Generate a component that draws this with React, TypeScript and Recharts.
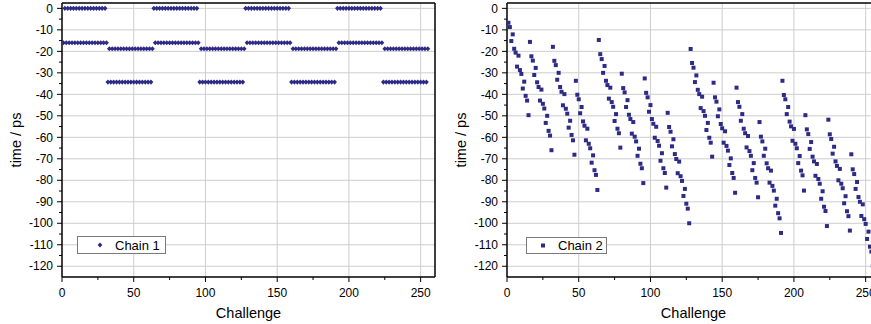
import React from 'react';
import { ScatterChart, Scatter, XAxis, YAxis, CartesianGrid, ReferenceLine, Legend } from 'recharts';

// ---------- data ----------
const challengeTicks = [0, 25, 50, 75, 100, 125, 150, 175, 200, 225, 250];
const timeTicks = [-120, -115, -110, -105, -100, -95, -90, -85, -80, -75, -70, -65, -60, -55, -50, -45, -40, -35, -30, -25, -20, -15, -10, -5, 0];
const gridChallenge = [50, 100, 150, 200, 250];
const gridTime = [-120, -110, -100, -90, -80, -70, -60, -50, -40, -30, -20, -10, 0];

// Chain 1: level per 32-challenge block, for even and odd challenges
const chain1EvenLevels = [0, -34.3, 0, -34.3, 0, -34.3, 0, -34.3];
const chain1OddLevels = [-16.0, -18.8, -16.0, -18.8, -16.0, -18.8, -16.0, -18.8];

// Chain 2: values for challenges 1..255, in blocks of 16
const chain2Block0 = [-6.7, -8.7, -15.2, -12.1, -18.8, -20.6, -27.1, -22.0, -28.7, -30.5, -37.3, -34.1, -40.7, -42.9, -49.7];
const chain2Block1 = [-15.6, -22.3, -24.3, -31.0, -27.7, -34.4, -36.6, -42.9, -37.8, -44.4, -46.6, -53.3, -50.0, -57.0, -59.2, -66.0];
const chain2Block2 = [-17.9, -24.4, -26.4, -33.2, -30.0, -36.6, -38.8, -45.1, -39.9, -46.7, -49.0, -55.5, -52.3, -58.9, -61.4, -68.1];
const chain2Block3 = [-33.7, -40.2, -42.3, -48.8, -45.9, -52.6, -54.6, -61.4, -56.0, -63.0, -65.1, -71.8, -68.4, -75.3, -77.5, -84.5];
const chain2Block4 = [-14.7, -21.3, -23.6, -30.0, -26.8, -33.7, -35.7, -42.0, -36.9, -43.6, -45.8, -52.4, -49.2, -56.0, -58.1, -64.8];
const chain2Block5 = [-30.4, -37.1, -39.1, -45.9, -42.7, -49.5, -51.5, -58.3, -52.9, -59.7, -61.9, -68.6, -65.3, -72.3, -74.4, -81.3];
const chain2Block6 = [-32.6, -39.3, -41.4, -48.1, -45.0, -51.5, -53.7, -60.2, -55.1, -61.7, -63.9, -70.9, -67.4, -74.4, -76.6, -83.4];
const chain2Block7 = [-48.6, -55.2, -57.4, -64.2, -60.9, -67.8, -70.1, -76.7, -71.3, -78.1, -80.3, -87.3, -84.0, -90.9, -93.2, -100.0];
const chain2Block8 = [-18.9, -25.4, -27.6, -34.3, -31.2, -37.9, -39.9, -46.4, -41.1, -47.8, -50.0, -56.6, -53.3, -60.2, -62.5, -69.0];
const chain2Block9 = [-34.6, -41.4, -43.4, -50.2, -47.0, -53.8, -55.8, -62.5, -57.2, -64.0, -66.2, -72.9, -69.8, -76.6, -78.9, -85.8];
const chain2Block10 = [-36.9, -43.6, -45.8, -52.3, -49.2, -56.0, -58.1, -64.7, -59.4, -66.4, -68.6, -75.3, -72.0, -78.9, -81.1, -87.9];
const chain2Block11 = [-52.9, -59.7, -61.9, -68.6, -65.3, -72.1, -74.4, -81.1, -75.5, -82.6, -84.8, -91.8, -88.6, -95.3, -97.7, -104.5];
const chain2Block12 = [-33.7, -40.3, -42.3, -49.2, -45.9, -52.7, -54.9, -61.6, -56.1, -63.0, -65.1, -72.0, -68.7, -75.5, -77.7, -84.8];
const chain2Block13 = [-49.7, -56.3, -58.5, -65.4, -62.2, -69.0, -71.2, -77.9, -72.4, -79.4, -81.6, -88.6, -85.1, -92.3, -94.3, -101.3];
const chain2Block14 = [-51.8, -58.6, -60.8, -67.6, -64.4, -71.2, -73.3, -80.0, -74.7, -81.6, -83.7, -90.7, -87.4, -94.4, -96.7, -103.4];
const chain2Block15 = [-67.9, -74.9, -77.1, -84.0, -80.8, -87.8, -90.0, -96.6, -91.2, -98.1, -100.3, -107.3, -103.9, -110.9, -113.2, -119.9];

const chain2Values = [
  ...chain2Block0, ...chain2Block1, ...chain2Block2, ...chain2Block3,
  ...chain2Block4, ...chain2Block5, ...chain2Block6, ...chain2Block7,
  ...chain2Block8, ...chain2Block9, ...chain2Block10, ...chain2Block11,
  ...chain2Block12, ...chain2Block13, ...chain2Block14, ...chain2Block15,
];

const chain1Data: { x: number; y: number }[] = [];
for (let c = 1; c < 256; c++) {
  const b = Math.floor(c / 32);
  chain1Data.push({ x: c, y: c % 2 === 0 ? chain1EvenLevels[b] : chain1OddLevels[b] });
}
const chain2Data = chain2Values.map((v, i) => ({ x: i + 1, y: v }));

// ---------- styling ----------
const MARK = '#2e2b86';
const GRID = '#cdcdcd';
const FONT = '"Liberation Sans", Arial, Helvetica, sans-serif';

const diamond = (cx: number, cy: number) => (
  <polygon points={`${cx},${cy - 2.6} ${cx + 2.4},${cy} ${cx},${cy + 2.6} ${cx - 2.4},${cy}`} fill={MARK} />
);
const square = (cx: number, cy: number) => (
  <rect x={cx - 2} y={cy - 2} width={4} height={4} fill={MARK} />
);

const YTick = (props: any) => {
  const { x, y, payload } = props;
  const v = payload.value;
  const major = v % 10 === 0;
  return (
    <g>
      <line x1={x} x2={x - (major ? 5 : 3)} y1={y} y2={y} stroke="#000" strokeWidth={1} />
      {major && (
        <text x={x - 9} y={y} dy="0.35em" textAnchor="end" fontSize={12} fill="#000" fontFamily={FONT}>
          {v}
        </text>
      )}
    </g>
  );
};

const XTick = (props: any) => {
  const { x, y, payload } = props;
  const v = payload.value;
  const major = v % 50 === 0;
  return (
    <g>
      <line x1={x} x2={x} y1={y} y2={y + (major ? 5 : 3)} stroke="#000" strokeWidth={1} />
      {major && (
        <text x={x} y={y + 19.5} textAnchor="middle" fontSize={12} fill="#000" fontFamily={FONT}>
          {v}
        </text>
      )}
    </g>
  );
};

const XLabel = (props: any) => {
  const vb = props.viewBox;
  return (
    <text x={vb.x + vb.width / 2} y={vb.y + 41} textAnchor="middle" fontSize={14.5} fill="#000" fontFamily={FONT}>
      Challenge
    </text>
  );
};

const YLabel = (props: any) => {
  const vb = props.viewBox;
  const cx = vb.x + vb.width - 46;
  const cy = vb.y + vb.height / 2;
  return (
    <text x={cx} y={cy} transform={`rotate(-90 ${cx} ${cy})`} textAnchor="middle" dy="0.35em" fontSize={14.5} fill="#000" fontFamily={FONT}>
      time / ps
    </text>
  );
};

type PanelProps = {
  width: number;
  yAxisWidth: number;
  data: { x: number; y: number }[];
  name: string;
  marker: (cx: number, cy: number) => React.ReactElement;
  legendLeft: number;
  legendTop: number;
  legendW: number;
  legendH: number;
  legendMarkerX: number;
  legendTextX: number;
  legendBaseline: number;
};

const Panel = (p: PanelProps) => (
  <ScatterChart width={p.width} height={324} margin={{ top: 3, right: 5, bottom: 0, left: 0 }}>
    <CartesianGrid stroke={GRID} strokeWidth={1} horizontalValues={gridTime} verticalValues={gridChallenge} />
    <XAxis
      type="number"
      dataKey="x"
      domain={[0, 260]}
      ticks={challengeTicks}
      interval={0}
      height={47}
      tickSize={0}
      tickMargin={0}
      tickLine={false}
      axisLine={{ stroke: '#000', strokeWidth: 1.5 }}
      tick={<XTick />}
      label={<XLabel />}
    />
    <YAxis
      type="number"
      dataKey="y"
      domain={[-125, 2.5]}
      ticks={timeTicks}
      interval={0}
      width={p.yAxisWidth}
      tickSize={0}
      tickMargin={0}
      tickLine={false}
      axisLine={{ stroke: '#000', strokeWidth: 1.5 }}
      tick={<YTick />}
      label={<YLabel />}
    />
    <ReferenceLine y={2.5} stroke="#000" strokeWidth={1.5} />
    <ReferenceLine x={260} stroke="#000" strokeWidth={1.5} />
    <Scatter
      name={p.name}
      data={p.data}
      fill={MARK}
      isAnimationActive={false}
      shape={(s: any) => p.marker(s.cx, s.cy)}
    />
    <Legend
      layout="horizontal"
      verticalAlign="middle"
      align="center"
      wrapperStyle={{ left: p.legendLeft, top: p.legendTop, width: p.legendW + 1, height: p.legendH + 1 }}
      content={() => (
        <svg width={p.legendW + 1} height={p.legendH + 1} style={{ display: 'block' }}>
          <rect x={0.5} y={0.5} width={p.legendW} height={p.legendH} fill="#fff" stroke="#7a7a7a" strokeWidth={1} />
          {p.marker(p.legendMarkerX, (p.legendH + 1) / 2)}
          <text x={p.legendTextX} y={p.legendBaseline} fontSize={13} fill="#000" fontFamily={FONT}>
            {p.name}
          </text>
        </svg>
      )}
    />
  </ScatterChart>
);

export default function App() {
  return (
    <div
      style={{
        position: 'absolute',
        left: 0,
        top: 0,
        width: 871,
        height: 324,
        overflow: 'hidden',
        background: '#fff',
        fontFamily: FONT,
      }}
    >
      <div style={{ position: 'absolute', left: 0, top: 0 }}>
        <Panel
          width={440}
          yAxisWidth={62}
          data={chain1Data}
          name="Chain 1"
          marker={diamond}
          legendLeft={77}
          legendTop={236}
          legendW={88}
          legendH={17}
          legendMarkerX={23}
          legendTextX={38}
          legendBaseline={14.3}
        />
      </div>
      <div style={{ position: 'absolute', left: 440, top: 0 }}>
        <Panel
          width={445}
          yAxisWidth={67}
          data={chain2Data}
          name="Chain 2"
          marker={square}
          legendLeft={86}
          legendTop={237}
          legendW={80}
          legendH={16}
          legendMarkerX={17}
          legendTextX={32}
          legendBaseline={13.3}
        />
      </div>
    </div>
  );
}
